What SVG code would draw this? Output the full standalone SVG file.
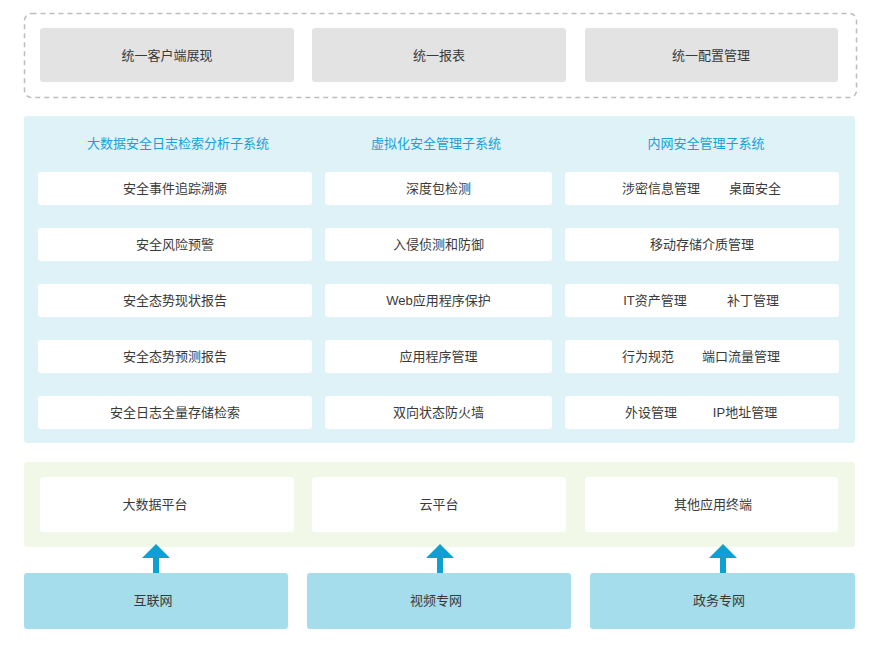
<svg xmlns="http://www.w3.org/2000/svg" width="878" height="652" viewBox="0 0 878 652">
<defs>
<style>
.t{font-family:"Liberation Sans","Noto Sans CJK SC",sans-serif;font-size:13px;fill:#3a3a3a;text-anchor:middle}
.h{font-family:"Liberation Sans","Noto Sans CJK SC",sans-serif;font-size:13px;fill:#1a9fd6;text-anchor:middle}
.gray{fill:#e3e3e3}
.wb{fill:#ffffff}
.blue{fill:#a5dded}
.arr{fill:#0fa0d2}
</style>
</defs>
<rect width="878" height="652" fill="#ffffff"/>
<g id="top-layer">
<rect x="24.5" y="13.5" width="832" height="84" rx="7" fill="none" stroke="#bdbdbd" stroke-width="1.5" stroke-dasharray="5,4"/>
</g>
<g id="n-client"><rect class="gray" x="40" y="28" width="254" height="54" rx="3"/><text class="t" x="167" y="59.5">统一客户端展现</text></g>
<g id="n-report"><rect class="gray" x="312" y="28" width="254" height="54" rx="3"/><text class="t" x="439" y="59.5">统一报表</text></g>
<g id="n-config"><rect class="gray" x="585" y="28" width="253" height="54" rx="3"/><text class="t" x="711" y="59.5">统一配置管理</text></g>

<g id="mid-panel"><rect x="24" y="116" width="831" height="327" rx="3" fill="#def2f8"/></g>
<g id="headers">
<text class="h" x="178" y="148">大数据安全日志检索分析子系统</text>
<text class="h" x="436" y="148">虚拟化安全管理子系统</text>
<text class="h" x="706" y="148">内网安全管理子系统</text>
</g>
<g id="c1r1"><rect class="wb" x="38" y="172" width="274" height="33" rx="3"/><text class="t" x="175" y="193">安全事件追踪溯源</text></g>
<g id="c1r2"><rect class="wb" x="38" y="228" width="274" height="33" rx="3"/><text class="t" x="175" y="249">安全风险预警</text></g>
<g id="c1r3"><rect class="wb" x="38" y="284" width="274" height="33" rx="3"/><text class="t" x="175" y="305">安全态势现状报告</text></g>
<g id="c1r4"><rect class="wb" x="38" y="340" width="274" height="33" rx="3"/><text class="t" x="175" y="361">安全态势预测报告</text></g>
<g id="c1r5"><rect class="wb" x="38" y="396" width="274" height="33" rx="3"/><text class="t" x="175" y="417">安全日志全量存储检索</text></g>

<g id="c2r1"><rect class="wb" x="325" y="172" width="227" height="33" rx="3"/><text class="t" x="438.5" y="193">深度包检测</text></g>
<g id="c2r2"><rect class="wb" x="325" y="228" width="227" height="33" rx="3"/><text class="t" x="438.5" y="249">入侵侦测和防御</text></g>
<g id="c2r3"><rect class="wb" x="325" y="284" width="227" height="33" rx="3"/><text class="t" x="438.5" y="305">Web应用程序保护</text></g>
<g id="c2r4"><rect class="wb" x="325" y="340" width="227" height="33" rx="3"/><text class="t" x="438.5" y="361">应用程序管理</text></g>
<g id="c2r5"><rect class="wb" x="325" y="396" width="227" height="33" rx="3"/><text class="t" x="438.5" y="417">双向状态防火墙</text></g>

<g id="c3r1"><rect class="wb" x="565" y="172" width="274" height="33" rx="3"/><text class="t" x="661" y="193">涉密信息管理</text><text class="t" x="755" y="193">桌面安全</text></g>
<g id="c3r2"><rect class="wb" x="565" y="228" width="274" height="33" rx="3"/><text class="t" x="702" y="249">移动存储介质管理</text></g>
<g id="c3r3"><rect class="wb" x="565" y="284" width="274" height="33" rx="3"/><text class="t" x="655" y="305">IT资产管理</text><text class="t" x="753" y="305">补丁管理</text></g>
<g id="c3r4"><rect class="wb" x="565" y="340" width="274" height="33" rx="3"/><text class="t" x="648" y="361">行为规范</text><text class="t" x="741" y="361">端口流量管理</text></g>
<g id="c3r5"><rect class="wb" x="565" y="396" width="274" height="33" rx="3"/><text class="t" x="651" y="417">外设管理</text><text class="t" x="745" y="417">IP地址管理</text></g>

<g id="platform-panel"><rect x="24" y="462" width="831" height="85" rx="3" fill="#f1f8e7"/></g>
<g id="n-bigdata"><rect class="wb" x="40" y="477" width="254" height="55" rx="3"/><text class="t" x="155" y="509">大数据平台</text></g>
<g id="n-cloud"><rect class="wb" x="312" y="477" width="254" height="55" rx="3"/><text class="t" x="439" y="509">云平台</text></g>
<g id="n-other"><rect class="wb" x="585" y="477" width="253" height="55" rx="3"/><text class="t" x="713" y="509">其他应用终端</text></g>

<g id="connectors">
<polygon class="arr" points="156,544 170,558 159,558 159,575 153,575 153,558 142,558"/>
<polygon class="arr" points="440,544 454,558 443,558 443,575 437,575 437,558 426,558"/>
<polygon class="arr" points="723,544 737,558 726,558 726,575 720,575 720,558 709,558"/>
</g>

<g id="n-internet"><rect class="blue" x="24" y="573" width="264" height="56" rx="3"/><text class="t" x="153" y="605">互联网</text></g>
<g id="n-video"><rect class="blue" x="307" y="573" width="264" height="56" rx="3"/><text class="t" x="436" y="605">视频专网</text></g>
<g id="n-gov"><rect class="blue" x="590" y="573" width="265" height="56" rx="3"/><text class="t" x="719" y="605">政务专网</text></g>
</svg>
